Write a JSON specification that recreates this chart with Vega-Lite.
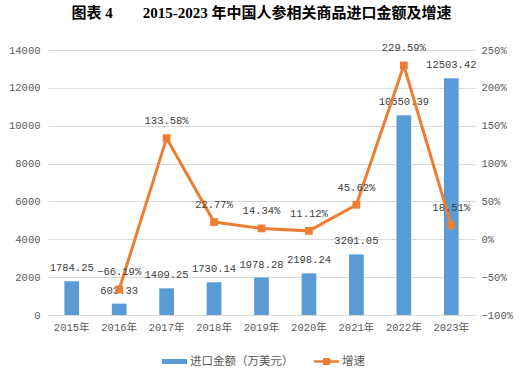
{
  "$schema": "https://vega.github.io/schema/vega-lite/v6.json",
  "width": 427,
  "height": 265,
  "autosize": {"type": "none"},
  "padding": {"left": 48, "top": 50, "right": 49, "bottom": 62},
  "background": "white",
  "title": {
    "text": "图表 4\u3000\u00a0\u00a0\u00a0 2015-2023 年中国人参相关商品进口金额及增速",
    "font": "Liberation Serif, Noto Sans CJK SC",
    "fontSize": 15,
    "fontWeight": "bold",
    "color": "#000000",
    "anchor": "middle",
    "offset": 22
  },
  "config": {
    "view": {"stroke": null},
    "axis": {
      "labelFont": "Liberation Mono, Noto Sans CJK SC",
      "labelFontSize": 10.5,
      "labelColor": "#595959",
      "titleColor": "#595959",
      "labelOverlap": false
    }
  },
  "data": {
    "values": [
      {"year": "2015年", "amount": 1784.25, "growth": null},
      {"year": "2016年", "amount": 603.33, "growth": -0.6619},
      {"year": "2017年", "amount": 1409.25, "growth": 1.3358},
      {"year": "2018年", "amount": 1730.14, "growth": 0.2277},
      {"year": "2019年", "amount": 1978.28, "growth": 0.1434},
      {"year": "2020年", "amount": 2198.24, "growth": 0.1112},
      {"year": "2021年", "amount": 3201.05, "growth": 0.4562},
      {"year": "2022年", "amount": 10550.39, "growth": 2.2959},
      {"year": "2023年", "amount": 12503.42, "growth": 0.1851}
    ]
  },
  "encoding": {
    "x": {
      "field": "year",
      "type": "ordinal",
      "sort": null,
      "scale": {"paddingInner": 0, "paddingOuter": 0},
      "axis": {
        "title": null,
        "labelAngle": 0,
        "ticks": false,
        "domainColor": "#d9d9d9",
        "labelPadding": 7
      }
    }
  },
  "layer": [
    {
      "layer": [
        {
          "mark": {"type": "bar", "width": {"band": 0.31}},
          "encoding": {
            "y": {
              "field": "amount",
              "type": "quantitative",
              "scale": {"domain": [0, 14000], "nice": false},
              "axis": {
                "title": null,
                "orient": "left",
                "values": [0, 2000, 4000, 6000, 8000, 10000, 12000, 14000],
                "tickCount": 8,
                "labelOverlap": false,
                "domain": false,
                "ticks": false,
                "gridColor": "#d9d9d9",
                "labelPadding": 8,
                "format": "d"
              }
            },
            "color": {
              "datum": "进口金额（万美元）",
              "type": "nominal",
              "scale": {"domain": ["进口金额（万美元）", "增速"], "range": ["#5B9BD5", "#ED7D31"]},
              "legend": {
                "title": null,
                "orient": "none",
                "legendX": 114,
                "legendY": 299,
                "direction": "horizontal",
                "labelFont": "Noto Sans CJK SC",
                "labelFontSize": 11.5,
                "labelColor": "#595959",
                "symbolSize": 625,
                "columnPadding": 20,
                "labelOffset": 3,
                "encode": {
                  "symbols": {
                    "update": {
                      "shape": [
                        {"test": "datum.value === '增速'", "value": "M-1,-0.1H1V0.1H-1Z M-0.28,-0.28H0.28V0.28H-0.28Z"},
                        {"value": "M-1,-0.2H1V0.2H-1Z"}
                      ],
                      "strokeWidth": {"value": 0}
                    }
                  }
                }
              }
            }
          }
        },
        {
          "mark": {"type": "text", "dy": -13, "font": "Liberation Mono", "fontSize": 10.5, "color": "#404040"},
          "encoding": {
            "y": {"field": "amount", "type": "quantitative"},
            "text": {"field": "amount", "type": "quantitative", "format": ".2f"}
          }
        }
      ]
    },
    {
      "transform": [{"filter": "datum.growth != null"}],
      "layer": [
        {
          "mark": {"type": "line", "strokeWidth": 3, "point": {"shape": "square", "size": 60, "filled": true, "opacity": 1}},
          "encoding": {
            "y": {
              "field": "growth",
              "type": "quantitative",
              "scale": {"domain": [-1, 2.5], "nice": false},
              "axis": {
                "title": null,
                "orient": "right",
                "values": [-1, -0.5, 0, 0.5, 1, 1.5, 2, 2.5],
                "tickCount": 8,
                "labelOverlap": false,
                "format": ".0%",
                "domain": false,
                "ticks": false,
                "grid": false,
                "labelPadding": 6
              }
            },
            "color": {"datum": "增速", "type": "nominal"}
          }
        },
        {
          "mark": {"type": "text", "dy": -17, "font": "Liberation Mono", "fontSize": 10.5, "color": "#404040"},
          "encoding": {
            "y": {"field": "growth", "type": "quantitative"},
            "text": {"field": "growth", "type": "quantitative", "format": ".2%"}
          }
        }
      ]
    }
  ],
  "resolve": {"scale": {"y": "independent"}}
}
